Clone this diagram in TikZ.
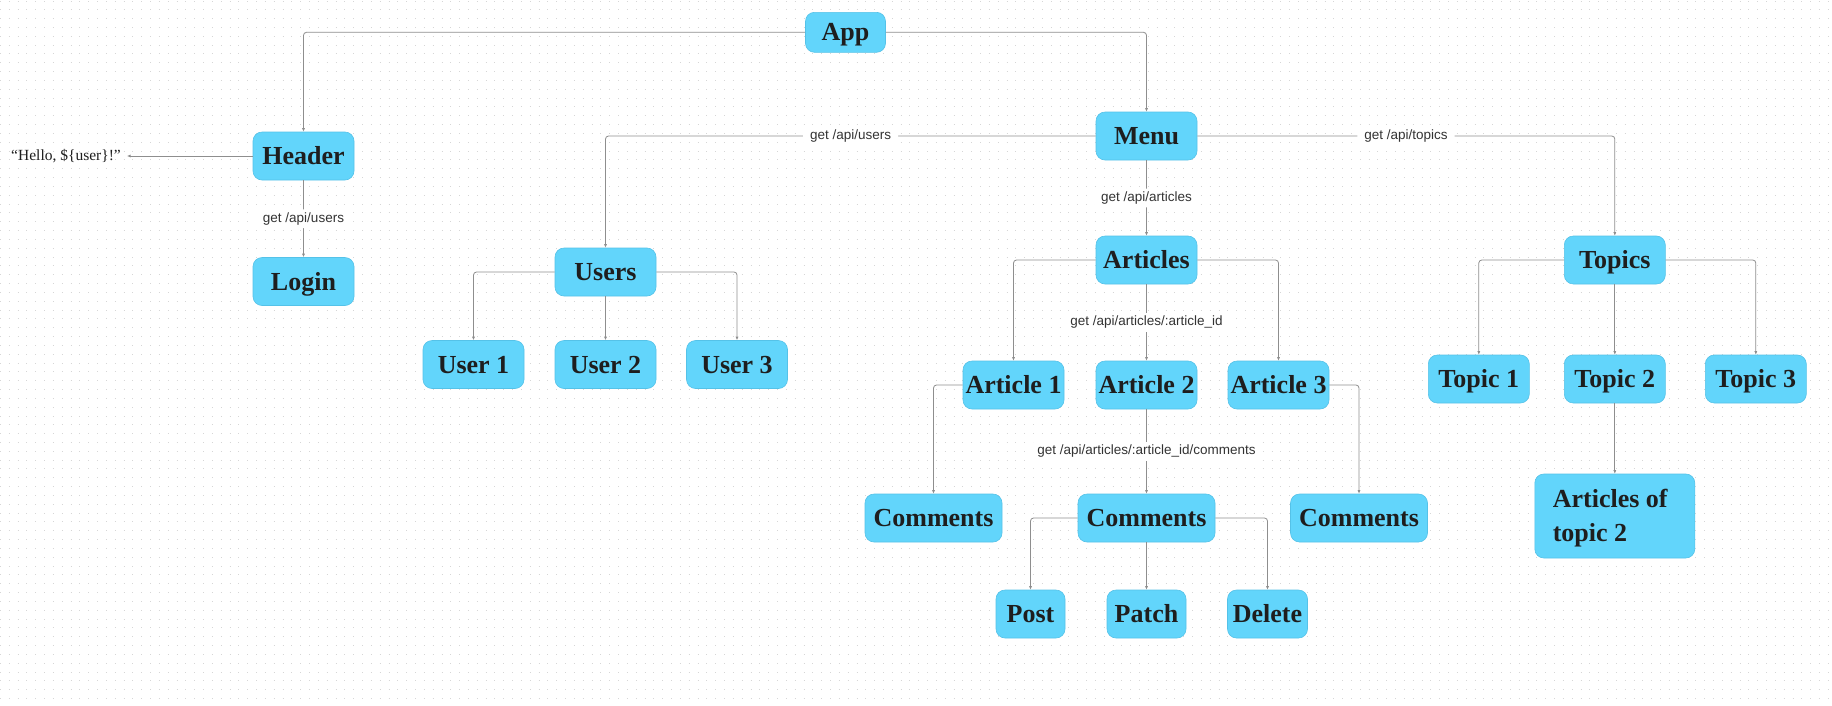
\documentclass[tikz,border=0pt]{standalone}
\usepackage{fontspec}
\setmainfont{Liberation Serif}
\newfontfamily\apifont{Liberation Sans}
\usetikzlibrary{arrows.meta}
\definecolor{boxfill}{HTML}{62D5FB}
\definecolor{boxline}{HTML}{55C2E8}
\definecolor{boxtext}{HTML}{1E1E1E}
\definecolor{linkgray}{HTML}{8E8E8E}
\definecolor{apitext}{HTML}{333333}
\tikzset{griddots/.style={black!16, line width=1pt, dash pattern=on 1pt off 7.83pt}}

\begin{document}
\begin{tikzpicture}
      [x=1pt, y=-1pt,
      block/.style={rectangle, draw=boxline, line width=0.6pt, fill=boxfill,
        rounded corners=9pt, inner sep=0pt, minimum width=101pt, minimum height=48pt,
        text=boxtext, text height=17.2pt, text depth=0pt,
        font=\bfseries\fontsize{26}{34}\selectfont},
      api/.style={fill=white, inner xsep=7pt, inner ysep=3pt, text=apitext,
        font=\apifont\fontsize{13.5}{16}\selectfont},
      link/.style={draw=linkgray, line width=0.8pt, rounded corners=3pt,
        -{Latex[length=3.5pt,width=3pt]}}]
      % Background with dots
      \useasboundingbox (0,0) rectangle (1832,705);
      \fill [white] (0,0) rectangle (1832,705);
      \foreach \row in {0,...,79}
        \draw [griddots] (0,{1+8.83*\row}) -- (1832,{1+8.83*\row});
      % Place nodes
      \node [block, minimum width=80pt, minimum height=40pt] (app) at (845.5,32.3) {App};
      \node [block] (header) at (303.5,156) {Header};
      \node [block, below of=header, node distance=125.5pt] (login) {Login};
      \node [anchor=east, inner xsep=6pt, text=boxtext, font=\fontsize{15.5}{18}\selectfont]
        (hello) at (127,156) {“Hello, \$\{user\}!”};
      \node [block] (menu) at (1146.5,136) {Menu};
      \node [block] (users) at (605.5,272) {Users};
      \node [block, below of=users, node distance=92.5pt] (user2) {User 2};
      \node [block, left of=user2, node distance=132pt] (user1) {User 1};
      \node [block, right of=user2, node distance=131.5pt] (user3) {User 3};
      \node [block, below of=menu, node distance=124pt] (articles) {Articles};
      \node [block, below of=articles, node distance=125pt] (article2) {Article 2};
      \node [block, left of=article2, node distance=133pt] (article1) {Article 1};
      \node [block, right of=article2, node distance=132pt] (article3) {Article 3};
      \node [block, minimum width=137pt, below of=article2, node distance=133pt] (comments2) {Comments};
      \node [block, minimum width=137pt, left of=comments2, node distance=213pt] (comments1) {Comments};
      \node [block, minimum width=137pt, right of=comments2, node distance=212.5pt] (comments3) {Comments};
      \node [block, minimum width=79pt, below of=comments2, node distance=96pt] (patch) {Patch};
      \node [block, minimum width=69pt, left of=patch, node distance=116pt] (post) {Post};
      \node [block, minimum width=80pt, right of=patch, node distance=121pt] (delete) {Delete};
      \node [block] (topics) at (1614.8,260) {Topics};
      \node [block, below of=topics, node distance=119pt] (topic2) {Topic 2};
      \node [block, left of=topic2, node distance=136pt] (topic1) {Topic 1};
      \node [block, right of=topic2, node distance=141pt] (topic3) {Topic 3};
      \node [block, minimum width=160pt, minimum height=84pt, text width=124pt, align=flush left,
        text depth=34pt, below of=topic2, node distance=137pt] (topicarticles) {Articles of\\topic 2};
      % Draw edges
      \draw [link] (app.west) -| (header.north);
      \draw [link] (app.east) -| (menu.north);
      \draw [link] (header.west) -- (hello.east);
      \draw [link] (header) -- node [api] {get /api/users} (login);
      \draw [link] (menu.west) -| node [api, pos=0.25] {get /api/users} (users.north);
      \draw [link] (menu.east) -| node [api, pos=0.25] {get /api/topics} (topics.north);
      \draw [link] (menu) -- node [api] {get /api/articles} (articles);
      \draw [link] (users.west) -| (user1.north);
      \draw [link] (users) -- (user2);
      \draw [link] (users.east) -| (user3.north);
      \draw [link] (articles.west) -| (article1.north);
      \draw [link] (articles) -- node [api] {get /api/articles/:article\_id} (article2);
      \draw [link] (articles.east) -| (article3.north);
      \draw [link] (article1.west) -| (comments1.north);
      \draw [link] (article2) -- node [api] {get /api/articles/:article\_id/comments} (comments2);
      \draw [link] (article3.east) -| (comments3.north);
      \draw [link] (comments2.west) -| (post.north);
      \draw [link] (comments2) -- (patch);
      \draw [link] (comments2.east) -| (delete.north);
      \draw [link] (topics.west) -| (topic1.north);
      \draw [link] (topics) -- (topic2);
      \draw [link] (topics.east) -| (topic3.north);
      \draw [link] (topic2) -- (topicarticles);
    \end{tikzpicture}
\end{document}
